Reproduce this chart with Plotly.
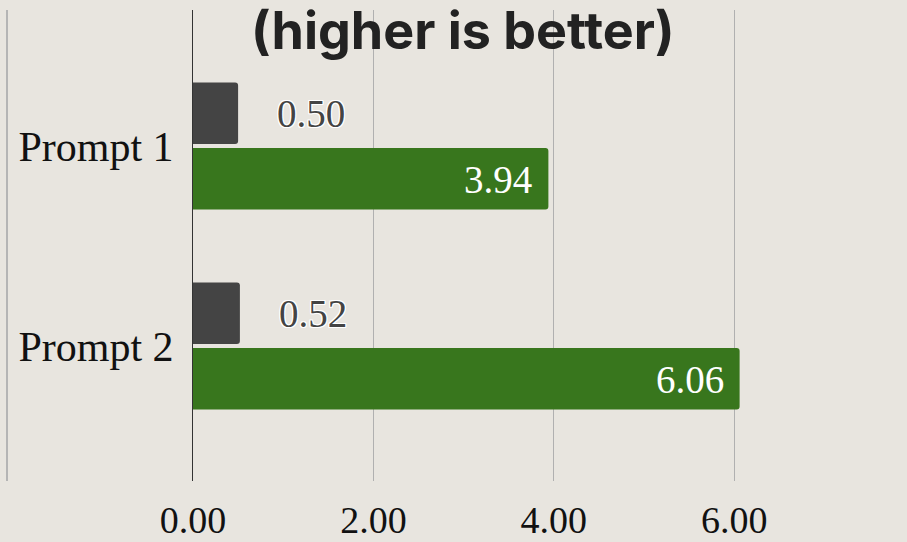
import plotly.graph_objects as go

categories = ["Prompt 1", "Prompt 2"]
baseline_vals = [0.50, 0.52]
model_vals = [3.94, 6.06]
tick_vals = [0, 2, 4, 6]
tick_text = ["0.00", "2.00", "4.00", "6.00"]
title_text = "(higher is better)"

BG = "#e8e5df"
GRAY = "#444444"
GREEN = "#38761d"
SERIF = "Liberation Serif, Georgia, serif"

fig = go.Figure()
fig.add_trace(go.Bar(y=categories, x=baseline_vals, orientation="h",
                     marker=dict(color=GRAY, line=dict(width=0)), name="Baseline"))
fig.add_trace(go.Bar(y=categories, x=model_vals, orientation="h",
                     marker=dict(color=GREEN, line=dict(width=0)), name="Model"))

outline = ("1px 1px 0 #fff, -1px -1px 0 #fff, 1px -1px 0 #fff, -1px 1px 0 #fff, "
           "0 1px 0 #fff, 0 -1px 0 #fff, 1px 0 0 #fff, -1px 0 0 #fff")
anns = []
for i, (b, m) in enumerate(zip(baseline_vals, model_vals)):
    anns.append(dict(x=b, y=i - 0.165, xref="x", yref="y", text=f"{b:.2f}",
                     showarrow=False, xanchor="left", xshift=37,
                     font=dict(family=SERIF, size=39, color=GRAY, shadow=outline)))
    anns.append(dict(x=m, y=i + 0.165, xref="x", yref="y", text=f"{m:.2f}",
                     showarrow=False, xanchor="right", xshift=-14,
                     font=dict(family=SERIF, size=39, color="#ffffff")))
anns.append(dict(x=(463 - 193) / 714, y=1 - (31 - 10) / 471, xref="paper", yref="paper",
                 text=f"<b>{title_text}</b>", showarrow=False, xanchor="center", yanchor="middle",
                 font=dict(family="Inter, sans-serif", size=52, color="#222222", weight=900)))

fig.update_layout(
    width=907, height=542,
    margin=dict(l=193, r=0, t=10, b=61, autoexpand=False),
    paper_bgcolor=BG, plot_bgcolor=BG,
    barmode="group", bargap=0.345, bargroupgap=0.06, barcornerradius=3,
    showlegend=False,
    annotations=anns,
    shapes=[dict(type="line", xref="paper", yref="paper", x0=(7 - 193) / 714, x1=(7 - 193) / 714,
                 y0=0, y1=1, line=dict(color="#b5b5b5", width=2), layer="below")],
)
fig.update_xaxes(range=[0, 714 / 90.2], tickvals=tick_vals, ticktext=tick_text,
                 showgrid=True, gridcolor="#b0b0b0", gridwidth=1, zeroline=False,
                 tickfont=dict(family=SERIF, size=38, color="#111111"),
                 ticklabelstandoff=13, showline=False, automargin=False)
fig.update_yaxes(type="category", range=[1.675, -0.68], showgrid=False, zeroline=False,
                 showline=True, linecolor="#333333", linewidth=1,
                 tickfont=dict(family=SERIF, size=42, color="#111111"),
                 ticklabelstandoff=10, automargin=False)

fig.write_html("out.html")
